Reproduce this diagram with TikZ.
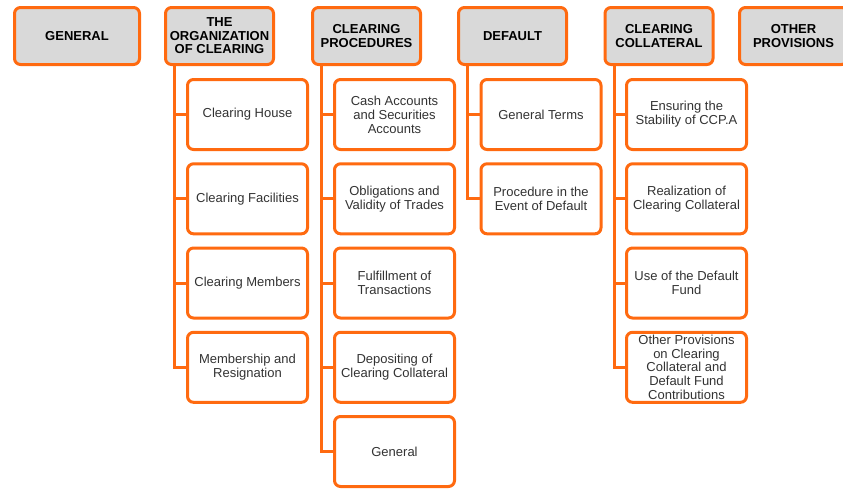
\documentclass[tikz,border=0pt]{standalone}
\usepackage{fontspec}
\setmainfont{Liberation Sans}
\definecolor{brand}{HTML}{FF6A10}
\definecolor{hdrfill}{HTML}{D9D9D9}
\definecolor{txt}{HTML}{333333}
\begin{document}
\begin{tikzpicture}[x=1pt,y=-1pt,
  hdr/.style={draw=brand, line width=3pt, fill=hdrfill, rounded corners=6pt,
    minimum width=108pt, minimum height=57pt, inner sep=1pt, align=center,
    font=\fontsize{13}{13.5}\selectfont\bfseries, text=black},
  item/.style={draw=brand, line width=3pt, fill=white, rounded corners=6pt,
    minimum width=120pt, minimum height=70pt, inner sep=1pt, align=center,
    font=\fontsize{13}{14}\selectfont, text=txt},
  link/.style={draw=brand, line width=3pt}]
\useasboundingbox (0,0) rectangle (843,488);

% section headers
\node[hdr, minimum width=125pt] (gen) at (77,36) {GENERAL};
\node[hdr] (org) at (219.5,36) {THE\\ORGANIZATION\\OF CLEARING};
\node[hdr] (proc) at (366.5,36) {CLEARING\\PROCEDURES};
\node[hdr] (dfl) at (512.5,36) {DEFAULT};
\node[hdr] (coll) at (659,36) {CLEARING\\COLLATERAL};
\node[hdr] (oth) at (793.5,36) {OTHER\\PROVISIONS};

% The Organization of Clearing
\node[item] (o1) at (247.5,114.5) {Clearing House};
\node[item] (o2) at (247.5,198.8) {Clearing Facilities};
\node[item] (o3) at (247.5,283) {Clearing Members};
\node[item] (o4) at (247.5,367.3) {Membership and\\Resignation};

% Clearing Procedures
\node[item] (p1) at (394.5,114.5) {Cash Accounts\\and Securities\\Accounts};
\node[item] (p2) at (394.5,198.8) {Obligations and\\Validity of Trades};
\node[item] (p3) at (394.5,283) {Fulfillment of\\Transactions};
\node[item] (p4) at (394.5,367.3) {Depositing of\\Clearing Collateral};
\node[item] (p5) at (394.5,451.5) {General};

% Default
\node[item] (d1) at (541,114.5) {General Terms};
\node[item] (d2) at (541,198.8) {Procedure in the\\Event of Default};

% Clearing Collateral
\node[item] (c1) at (686.5,114.5) {Ensuring the\\Stability of CCP.A};
\node[item] (c2) at (686.5,198.8) {Realization of\\Clearing Collateral};
\node[item] (c3) at (686.5,283) {Use of the Default\\Fund};
\node[item, font=\fontsize{13}{13.6}\selectfont] (c4) at (686.5,367.3)
  {Other Provisions\\on Clearing\\Collateral and\\Default Fund\\Contributions};

% connectors: trunk below each header, branch to each item
\foreach \h/\list in {org/{o1,o2,o3,o4}, proc/{p1,p2,p3,p4,p5}, dfl/{d1,d2}, coll/{c1,c2,c3,c4}} {
  \foreach \c in \list {
    \draw[link] ([xshift=10.5pt]\h.south west) |- (\c.west);
  }
}
\end{tikzpicture}
\end{document}
